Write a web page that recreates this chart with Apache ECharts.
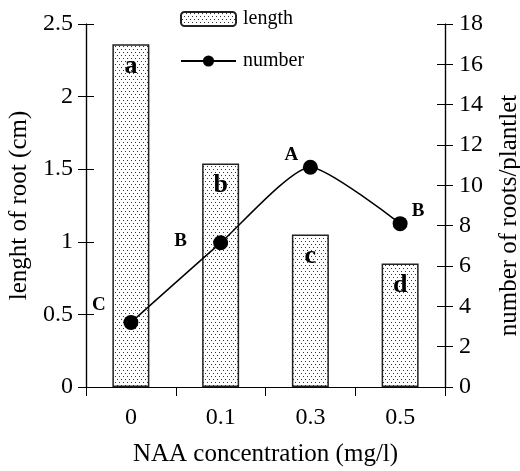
<!DOCTYPE html>
<html>
<head>
<meta charset="utf-8">
<script src="https://cdn.jsdelivr.net/npm/echarts@6/dist/echarts.min.js"></script>
<style>
  html, body { margin: 0; padding: 0; background: #fff; }
  #chart { width: 520px; height: 471px; }
</style>
</head>
<body>
<div id="chart"></div>
<script>
  const categories = ["0", "0.1", "0.3", "0.5"];
  const lengthValues = [2.36, 1.54, 1.05, 0.85];
  const lengthLetters = ["a", "b", "c", "d"];
  const numberValues = [3.2, 7.15, 10.9, 8.1];
  const numberLetters = ["C", "B", "A", "B"];

  // dotted fill for the bars
  const dots = document.createElement("canvas");
  dots.width = 4; dots.height = 6;
  const ctx = dots.getContext("2d");
  ctx.fillStyle = "#fff";
  ctx.fillRect(0, 0, 4, 6);
  ctx.fillStyle = "#333";
  ctx.fillRect(1, 1, 1, 1);
  ctx.fillRect(3, 4, 1, 1);

  const font = "'Liberation Serif', 'DejaVu Serif', serif";
  const letterOffsets = [[-32, -17], [-40, -2], [-19, -12], [18, -13]];

  const chart = echarts.init(document.getElementById("chart"), null, { renderer: "canvas" });
  const axisBase = {
    type: "value",
    splitLine: { show: false },
    axisLine: { show: true, lineStyle: { color: "#000", width: 1.2 } }
  };
  const nameStyle = { fontFamily: font, fontSize: 25, color: "#000" };
  const tickLabel = { fontFamily: font, fontSize: 24, color: "#000" };
  chart.setOption({
    animation: false,
    textStyle: { fontFamily: font, color: "#000" },
    grid: { left: 86, right: 75, top: 24, bottom: 84, outerBoundsMode: "none", containLabel: false },
    legend: {
      orient: "vertical",
      left: 180,
      top: 9,
      padding: 0,
      itemWidth: 55,
      itemHeight: 14,
      itemGap: 22,
      textStyle: { fontFamily: font, fontSize: 20, color: "#000", padding: [0, 0, 0, 2] },
      data: ["length", "number"]
    },
    xAxis: {
      type: "category",
      data: categories,
      name: "NAA concentration (mg/l)",
      nameLocation: "middle",
      nameGap: 55,
      nameTextStyle: nameStyle,
      axisLine: { lineStyle: { color: "#000", width: 1.2 } },
      axisTick: { show: true, length: 9, lineStyle: { color: "#000" } },
      axisLabel: Object.assign({ margin: 19 }, tickLabel)
    },
    yAxis: [
      Object.assign({}, axisBase, {
        position: "left", min: 0, max: 2.5, interval: 0.5,
        name: "lenght of root (cm)",
        nameLocation: "middle",
        nameGap: 54,
        nameTextStyle: nameStyle,
        axisTick: { show: true, length: 8, lineStyle: { color: "#000" } },
        axisLabel: Object.assign({ margin: 13 }, tickLabel)
      }),
      Object.assign({}, axisBase, {
        position: "right", min: 0, max: 18, interval: 2,
        name: "number of roots/plantlet",
        nameLocation: "middle",
        nameGap: 52,
        nameTextStyle: Object.assign({ padding: [0, 20, 0, 0] }, nameStyle),
        axisTick: { show: true, length: 8, lineStyle: { color: "#000" } },
        axisLabel: Object.assign({ margin: 14 }, tickLabel)
      }),
      Object.assign({}, axisBase, {
        position: "left", min: 0, max: 2.5, interval: 0.5,
        axisTick: { show: true, inside: true, length: 8, lineStyle: { color: "#000" } },
        axisLabel: { show: false }
      }),
      Object.assign({}, axisBase, {
        position: "right", min: 0, max: 18, interval: 2,
        axisTick: { show: true, inside: true, length: 8, lineStyle: { color: "#000" } },
        axisLabel: { show: false }
      })
    ],
    series: [
      {
        name: "length",
        type: "bar",
        yAxisIndex: 0,
        barWidth: 37,
        data: lengthValues,
        itemStyle: {
          color: { image: dots, repeat: "repeat" },
          borderColor: "#222",
          borderWidth: 1.5
        },
        label: {
          show: true,
          position: "insideTop",
          distance: 9,
          fontFamily: font,
          fontSize: 26,
          fontWeight: "bold",
          color: "#000",
          formatter: p => lengthLetters[p.dataIndex]
        }
      },
      {
        name: "number",
        type: "line",
        yAxisIndex: 1,
        smooth: 0.2,
        symbol: "circle",
        symbolSize: 15,
        lineStyle: { color: "#000", width: 1.5 },
        itemStyle: { color: "#000" },
        data: numberValues.map((v, i) => ({
          value: v,
          label: {
            show: true,
            position: "inside",
            offset: letterOffsets[i],
            fontFamily: font,
            fontSize: 19,
            fontWeight: "bold",
            color: "#000",
            formatter: numberLetters[i]
          }
        }))
      }
    ]
  });
</script>
</body>
</html>
